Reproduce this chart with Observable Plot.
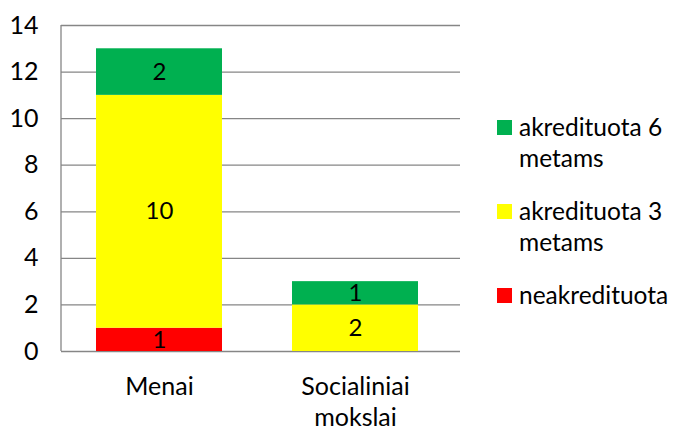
<!DOCTYPE html>
<html><head><meta charset="utf-8">
<script src="https://cdn.jsdelivr.net/npm/d3@7"></script>
<script src="https://cdn.jsdelivr.net/npm/@observablehq/plot@0.6"></script>
<style>
body{margin:0;background:#fff;font-family:Lato,"Open Sans",sans-serif;}
#wrap{position:relative;width:674px;height:429px;overflow:hidden;}
#legend{position:absolute;left:497px;top:111px;font-size:24.5px;color:#000;line-height:31px;}
.li{display:flex;align-items:flex-start;margin-bottom:22px;}
.sw{width:15px;height:15px;margin-top:9px;margin-right:7px;flex:none;}
</style></head><body>
<div id="wrap"><div id="chart"></div>
<div id="legend"></div></div>
<script>
const categories = ["Menai", "Socialiniai mokslai"];
const seriesNames = ["neakredituota", "akredituota 3 metams", "akredituota 6 metams"];
const neakredituota = [1, 0];
const akredituota3 = [10, 2];
const akredituota6 = [2, 1];
const colors = ["#FF0000", "#FFFF00", "#00B050"];
const yTicks = [0, 2, 4, 6, 8, 10, 12, 14];
const legendLabels = ["akredituota 6 metams", "akredituota 3 metams", "neakredituota"];
const legendColors = ["#00B050", "#FFFF00", "#FF0000"];

const values = [neakredituota, akredituota3, akredituota6];
const data = [];
seriesNames.forEach((s, si) => categories.forEach((c, ci) => data.push({cat: c, series: s, si, v: values[si][ci]})));

const stackOpts = {x: "cat", y: "v", z: "series", order: seriesNames};
const plot = Plot.plot({
  width: 674, height: 429,
  marginLeft: 61, marginRight: 214, marginTop: 25, marginBottom: 78,
  style: {fontFamily: "Lato, 'Open Sans', sans-serif", fontSize: "24px", color: "#000", background: "transparent"},
  x: {domain: categories, paddingInner: 0.359, paddingOuter: 0.195, align: 0.457, label: null},
  y: {domain: [0, 14], ticks: yTicks, label: null},
  color: {domain: seriesNames, range: colors},
  marks: [
    Plot.ruleY(yTicks, {stroke: "#868686", strokeWidth: 1.3}),
    Plot.barY(data, Plot.stackY({...stackOpts, fill: "series"})),
    Plot.text(data.filter(d => d.v > 0), Plot.stackY({...stackOpts, y: "v", text: d => String(d.v), fill: "#000", fontSize: 24})),
    Plot.axisY({ticks: yTicks, tickSize: 0, tickPadding: 23, fontSize: 25}),
    Plot.axisX({tickSize: 0, tickPadding: 21, fontSize: 25, lineHeight: 1.24, tickFormat: d => d.replace(" ", "\n")})
  ]
});
document.getElementById("chart").appendChild(plot);

// vertical axis line at left edge of plot
const svg = d3.select(plot.tagName === "svg" ? plot : plot.querySelector("svg"));
const yS = plot.scale("y");
svg.append("line").attr("x1", 61).attr("x2", 61).attr("y1", yS.apply(14)).attr("y2", yS.apply(0)).attr("stroke", "#868686").attr("stroke-width", 1.3);

const lg = document.getElementById("legend");
legendLabels.forEach((l, i) => {
  const d = document.createElement("div"); d.className = "li";
  const sw = document.createElement("div"); sw.className = "sw"; sw.style.background = legendColors[i];
  const t = document.createElement("div");
  t.innerHTML = l.replace(/ (metams)$/, "<br>$1");
  d.appendChild(sw); d.appendChild(t); lg.appendChild(d);
});
</script>
</body></html>
